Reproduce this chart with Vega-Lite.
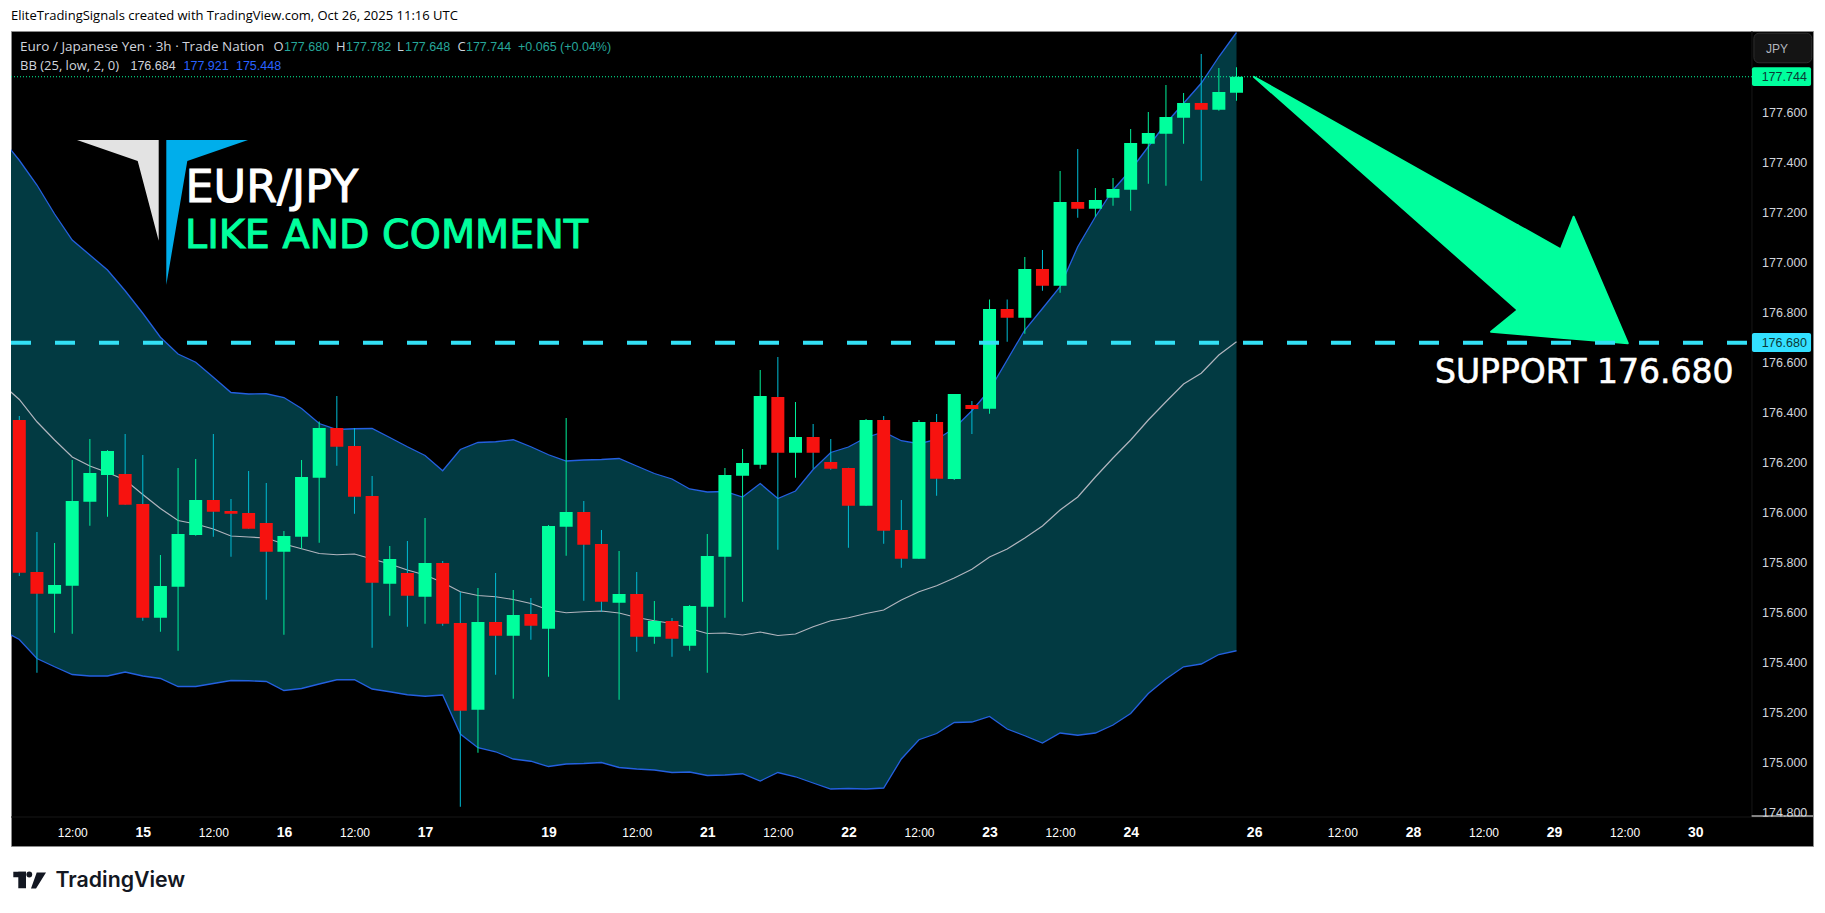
{"$schema":"https://vega.github.io/schema/vega-lite/v6.json","width":1802,"height":815,"autosize":{"type":"none"},"padding":{"left":11,"top":31,"right":12,"bottom":67},"background":"#ffffff","view":{"fill":"#000000","stroke":"#8a8a8a","strokeWidth":1},"title":{"text":"EliteTradingSignals created with TradingView.com, Oct 26, 2025 11:16 UTC","anchor":"start","frame":"group","orient":"top","offset":2,"baseline":"middle","font":"Open Sans","fontSize":13,"fontWeight":"normal","color":"#000000"},"datasets":{"candles":[{"i":0,"o":176.371,"h":176.387,"l":175.747,"c":175.76},{"i":1,"o":175.763,"h":175.923,"l":175.36,"c":175.676},{"i":2,"o":175.676,"h":175.879,"l":175.52,"c":175.711},{"i":3,"o":175.708,"h":176.211,"l":175.516,"c":176.047},{"i":4,"o":176.044,"h":176.295,"l":175.948,"c":176.159},{"i":5,"o":176.151,"h":176.251,"l":175.984,"c":176.247},{"i":6,"o":176.155,"h":176.315,"l":176.032,"c":176.032},{"i":7,"o":176.035,"h":176.231,"l":175.568,"c":175.58},{"i":8,"o":175.58,"h":175.831,"l":175.524,"c":175.707},{"i":9,"o":175.704,"h":176.179,"l":175.448,"c":175.915},{"i":10,"o":175.911,"h":176.215,"l":175.908,"c":176.051},{"i":11,"o":176.051,"h":176.315,"l":175.904,"c":176.004},{"i":12,"o":176.007,"h":176.055,"l":175.824,"c":175.996},{"i":13,"o":175.999,"h":176.167,"l":175.936,"c":175.936},{"i":14,"o":175.959,"h":176.119,"l":175.652,"c":175.844},{"i":15,"o":175.844,"h":175.927,"l":175.512,"c":175.907},{"i":16,"o":175.904,"h":176.211,"l":175.856,"c":176.143},{"i":17,"o":176.14,"h":176.365,"l":175.88,"c":176.339},{"i":18,"o":176.339,"h":176.467,"l":176.188,"c":176.264},{"i":19,"o":176.267,"h":176.339,"l":175.996,"c":176.064},{"i":20,"o":176.067,"h":176.147,"l":175.46,"c":175.72},{"i":21,"o":175.716,"h":175.867,"l":175.588,"c":175.815},{"i":22,"o":175.759,"h":175.887,"l":175.544,"c":175.668},{"i":23,"o":175.664,"h":175.979,"l":175.556,"c":175.799},{"i":24,"o":175.799,"h":175.807,"l":175.548,"c":175.556},{"i":25,"o":175.559,"h":175.683,"l":174.824,"c":175.208},{"i":26,"o":175.212,"h":175.699,"l":175.04,"c":175.563},{"i":27,"o":175.563,"h":175.759,"l":175.352,"c":175.508},{"i":28,"o":175.508,"h":175.691,"l":175.256,"c":175.591},{"i":29,"o":175.595,"h":175.659,"l":175.492,"c":175.548},{"i":30,"o":175.536,"h":175.951,"l":175.344,"c":175.947},{"i":31,"o":175.944,"h":176.379,"l":175.828,"c":176.003},{"i":32,"o":176.003,"h":176.047,"l":175.648,"c":175.872},{"i":33,"o":175.875,"h":175.931,"l":175.604,"c":175.644},{"i":34,"o":175.64,"h":175.847,"l":175.252,"c":175.675},{"i":35,"o":175.675,"h":175.763,"l":175.444,"c":175.504},{"i":36,"o":175.504,"h":175.647,"l":175.476,"c":175.567},{"i":37,"o":175.567,"h":175.579,"l":175.424,"c":175.496},{"i":38,"o":175.468,"h":175.631,"l":175.448,"c":175.627},{"i":39,"o":175.624,"h":175.915,"l":175.36,"c":175.827},{"i":40,"o":175.824,"h":176.179,"l":175.58,"c":176.151},{"i":41,"o":176.148,"h":176.255,"l":175.644,"c":176.199},{"i":42,"o":176.192,"h":176.571,"l":176.176,"c":176.467},{"i":43,"o":176.463,"h":176.623,"l":175.852,"c":176.24},{"i":44,"o":176.24,"h":176.443,"l":176.14,"c":176.303},{"i":45,"o":176.303,"h":176.355,"l":176.176,"c":176.24},{"i":46,"o":176.203,"h":176.295,"l":176.172,"c":176.176},{"i":47,"o":176.179,"h":176.18,"l":175.86,"c":176.028},{"i":48,"o":176.028,"h":176.375,"l":176.028,"c":176.371},{"i":49,"o":176.371,"h":176.387,"l":175.876,"c":175.928},{"i":50,"o":175.931,"h":176.051,"l":175.78,"c":175.816},{"i":51,"o":175.816,"h":176.371,"l":175.816,"c":176.363},{"i":52,"o":176.363,"h":176.395,"l":176.068,"c":176.136},{"i":53,"o":176.135,"h":176.475,"l":176.131,"c":176.475},{"i":54,"o":176.431,"h":176.447,"l":176.315,"c":176.415},{"i":55,"o":176.416,"h":176.853,"l":176.396,"c":176.815},{"i":56,"o":176.815,"h":176.853,"l":176.684,"c":176.78},{"i":57,"o":176.78,"h":177.023,"l":176.716,"c":176.975},{"i":58,"o":176.975,"h":177.051,"l":176.888,"c":176.908},{"i":59,"o":176.908,"h":177.367,"l":176.88,"c":177.243},{"i":60,"o":177.243,"h":177.455,"l":177.18,"c":177.216},{"i":61,"o":177.216,"h":177.299,"l":177.184,"c":177.251},{"i":62,"o":177.26,"h":177.339,"l":177.228,"c":177.295},{"i":63,"o":177.292,"h":177.535,"l":177.208,"c":177.479},{"i":64,"o":177.476,"h":177.603,"l":177.316,"c":177.519},{"i":65,"o":177.516,"h":177.711,"l":177.308,"c":177.583},{"i":66,"o":177.58,"h":177.679,"l":177.476,"c":177.639},{"i":67,"o":177.639,"h":177.835,"l":177.328,"c":177.612},{"i":68,"o":177.612,"h":177.779,"l":177.608,"c":177.683},{"i":69,"o":177.68,"h":177.782,"l":177.648,"c":177.744}],"bands":[{"i":-1,"upper":177.497,"basis":176.516,"lower":175.531},{"i":0,"upper":177.41,"basis":176.453,"lower":175.493},{"i":1,"upper":177.311,"basis":176.364,"lower":175.417},{"i":2,"upper":177.195,"basis":176.291,"lower":175.384},{"i":3,"upper":177.091,"basis":176.223,"lower":175.353},{"i":4,"upper":177.031,"basis":176.187,"lower":175.347},{"i":5,"upper":176.971,"basis":176.161,"lower":175.347},{"i":6,"upper":176.888,"basis":176.131,"lower":175.363},{"i":7,"upper":176.798,"basis":176.073,"lower":175.347},{"i":8,"upper":176.702,"basis":176.017,"lower":175.337},{"i":9,"upper":176.635,"basis":175.969,"lower":175.305},{"i":10,"upper":176.602,"basis":175.955,"lower":175.305},{"i":11,"upper":176.542,"basis":175.935,"lower":175.317},{"i":12,"upper":176.481,"basis":175.907,"lower":175.329},{"i":13,"upper":176.475,"basis":175.903,"lower":175.328},{"i":14,"upper":176.476,"basis":175.899,"lower":175.325},{"i":15,"upper":176.461,"basis":175.875,"lower":175.289},{"i":16,"upper":176.417,"basis":175.856,"lower":175.297},{"i":17,"upper":176.357,"basis":175.837,"lower":175.315},{"i":18,"upper":176.333,"basis":175.832,"lower":175.332},{"i":19,"upper":176.336,"basis":175.835,"lower":175.332},{"i":20,"upper":176.337,"basis":175.815,"lower":175.295},{"i":21,"upper":176.301,"basis":175.795,"lower":175.284},{"i":22,"upper":176.264,"basis":175.771,"lower":175.272},{"i":23,"upper":176.229,"basis":175.751,"lower":175.266},{"i":24,"upper":176.168,"basis":175.721,"lower":175.271},{"i":25,"upper":176.253,"basis":175.684,"lower":175.115},{"i":26,"upper":176.281,"basis":175.669,"lower":175.06},{"i":27,"upper":176.284,"basis":175.664,"lower":175.044},{"i":28,"upper":176.292,"basis":175.653,"lower":175.015},{"i":29,"upper":176.264,"basis":175.637,"lower":175.006},{"i":30,"upper":176.232,"basis":175.611,"lower":174.985},{"i":31,"upper":176.207,"basis":175.6,"lower":174.995},{"i":32,"upper":176.211,"basis":175.604,"lower":174.997},{"i":33,"upper":176.213,"basis":175.607,"lower":175.001},{"i":34,"upper":176.217,"basis":175.599,"lower":174.981},{"i":35,"upper":176.187,"basis":175.581,"lower":174.975},{"i":36,"upper":176.157,"basis":175.568,"lower":174.971},{"i":37,"upper":176.135,"basis":175.557,"lower":174.961},{"i":38,"upper":176.095,"basis":175.537,"lower":174.963},{"i":39,"upper":176.083,"basis":175.517,"lower":174.949},{"i":40,"upper":176.085,"basis":175.519,"lower":174.951},{"i":41,"upper":176.063,"basis":175.511,"lower":174.956},{"i":42,"upper":176.117,"basis":175.523,"lower":174.927},{"i":43,"upper":176.057,"basis":175.509,"lower":174.961},{"i":44,"upper":176.087,"basis":175.515,"lower":174.944},{"i":45,"upper":176.173,"basis":175.544,"lower":174.919},{"i":46,"upper":176.241,"basis":175.568,"lower":174.895},{"i":47,"upper":176.263,"basis":175.58,"lower":174.897},{"i":48,"upper":176.301,"basis":175.597,"lower":174.895},{"i":49,"upper":176.323,"basis":175.611,"lower":174.899},{"i":50,"upper":176.288,"basis":175.651,"lower":175.015},{"i":51,"upper":176.276,"basis":175.684,"lower":175.092},{"i":52,"upper":176.293,"basis":175.708,"lower":175.117},{"i":53,"upper":176.338,"basis":175.739,"lower":175.161},{"i":54,"upper":176.408,"basis":175.774,"lower":175.163},{"i":55,"upper":176.491,"basis":175.823,"lower":175.185},{"i":56,"upper":176.611,"basis":175.855,"lower":175.135},{"i":57,"upper":176.731,"basis":175.899,"lower":175.108},{"i":58,"upper":176.817,"basis":175.947,"lower":175.079},{"i":59,"upper":176.904,"basis":176.011,"lower":175.119},{"i":60,"upper":177.064,"basis":176.063,"lower":175.11},{"i":61,"upper":177.184,"basis":176.143,"lower":175.119},{"i":62,"upper":177.291,"basis":176.219,"lower":175.151},{"i":63,"upper":177.371,"basis":176.291,"lower":175.197},{"i":64,"upper":177.464,"basis":176.371,"lower":175.277},{"i":65,"upper":177.558,"basis":176.444,"lower":175.335},{"i":66,"upper":177.638,"basis":176.515,"lower":175.384},{"i":67,"upper":177.718,"basis":176.558,"lower":175.395},{"i":68,"upper":177.824,"basis":176.631,"lower":175.433},{"i":69,"upper":177.921,"basis":176.684,"lower":175.448}],"shapes":[{"shape":"arrow","part":"a","i":69.983,"p":177.744,"p2":177.744},{"shape":"arrow","part":"a","i":84.943,"p":177.15,"p2":176.811},{"shape":"arrow","part":"b","i":83.43,"p":176.724,"p2":176.724},{"shape":"arrow","part":"b","i":84.943,"p":176.811,"p2":176.715},{"shape":"arrow","part":"c","i":84.943,"p":177.15,"p2":176.715},{"shape":"arrow","part":"c","i":87.381,"p":177.054,"p2":176.7},{"shape":"arrow","part":"c","i":88.107,"p":177.184,"p2":176.696},{"shape":"arrow","part":"c","i":91.179,"p":176.678,"p2":176.678},{"shape":"logoLight","part":"a","i":3.271,"p":177.491,"p2":177.491},{"shape":"logoLight","part":"a","i":6.712,"p":177.491,"p2":177.407},{"shape":"logoLight","part":"a","i":7.902,"p":177.491,"p2":177.088},{"shape":"logoBlue","part":"a","i":8.333,"p":177.491,"p2":176.911},{"shape":"logoBlue","part":"a","i":9.524,"p":177.491,"p2":177.407},{"shape":"logoBlue","part":"a","i":12.965,"p":177.491,"p2":177.491},{"shape":"tv","part":"bar","i":-0.34,"p":174.564,"p2":174.542},{"shape":"tv","part":"bar","i":0.38,"p":174.564,"p2":174.542},{"shape":"tv","part":"stem","i":-0.057,"p":174.564,"p2":174.498},{"shape":"tv","part":"stem","i":0.38,"p":174.564,"p2":174.498},{"shape":"tv","part":"slant","i":0.663,"p":174.497,"p2":174.497},{"shape":"tv","part":"slant","i":0.947,"p":174.553,"p2":174.497},{"shape":"tv","part":"slant","i":0.986,"p":174.561,"p2":174.501},{"shape":"tv","part":"slant","i":1.514,"p":174.561,"p2":174.561}],"legendText":[{"i":0.04,"p":177.864,"text":"Euro / Japanese Yen · 3h · Trade Nation","role":"label"},{"i":14.416,"p":177.864,"text":"O","role":"label"},{"i":15.0,"p":177.864,"text":"177.680","role":"quote"},{"i":17.95,"p":177.864,"text":"H","role":"label"},{"i":18.52,"p":177.864,"text":"177.782","role":"quote"},{"i":21.41,"p":177.864,"text":"L","role":"label"},{"i":21.86,"p":177.864,"text":"177.648","role":"quote"},{"i":24.84,"p":177.864,"text":"C","role":"label"},{"i":25.32,"p":177.864,"text":"177.744","role":"quote"},{"i":28.27,"p":177.864,"text":"+0.065 (+0.04%)","role":"quote"},{"i":0.04,"p":177.788,"text":"BB (25, low, 2, 0)","role":"label"},{"i":6.3,"p":177.788,"text":"176.684","role":"basis"},{"i":9.31,"p":177.788,"text":"177.921","role":"band"},{"i":12.28,"p":177.788,"text":"175.448","role":"band"}],"levels":[{"name":"last","i":-0.4705,"i2":98.22,"p":177.744},{"name":"support","i":-0.4705,"i2":98.0,"p":176.68},{"name":"axisFoot","i":98.2,"i2":101.68,"p":174.787}],"dividers":[{"i":98.22,"p":177.927,"p2":174.787},{"i":-0.4705,"i2":101.68,"p":174.783}],"tags":[{"name":"last","i":98.22,"i2":101.57,"p":177.782,"p2":177.707},{"name":"support","i":98.22,"i2":101.57,"p":176.719,"p2":176.643}],"tagText":[{"i":98.77,"p":177.744,"text":"177.744"},{"i":98.77,"p":176.68,"text":"176.680"}],"button":[{"i":98.33,"i2":101.61,"p":177.918,"p2":177.8}],"buttonText":[{"i":99.02,"p":177.857,"text":"JPY"}],"notes":[{"kind":"pair","i":9.42,"p":177.244,"text":"EUR/JPY"},{"kind":"cta","i":9.4,"p":177.059,"text":"LIKE AND COMMENT"},{"kind":"support","i":80.25,"p":176.519,"text":"SUPPORT 176.680"},{"kind":"brand","i":2.05,"p":174.502,"text":"TradingView"}],"tvDot":[{"i":0.567,"p":174.553}]},"encoding":{"x":{"field":"i","type":"quantitative","scale":{"domain":[-0.4705,101.68],"nice":false,"zero":false,"padding":0},"axis":{"title":null,"orient":"bottom","domain":false,"ticks":false,"grid":false,"values":[3,7,11,15,19,23,30,35,39,43,47,51,55,59,63,70,75,79,83,87,91,95],"labelExpr":"{'7':'15','15':'16','23':'17','30':'19','39':'21','47':'22','55':'23','63':'24','70':'26','79':'28','87':'29','95':'30'}[datum.value+'']||'12:00'","labelFontWeight":{"condition":{"test":"indexof([7,15,23,30,39,47,55,63,70,79,87,95],datum.value)>=0","value":"bold"},"value":"normal"},"labelFontSize":{"condition":{"test":"indexof([7,15,23,30,39,47,55,63,70,79,87,95],datum.value)>=0","value":14},"value":12},"labelColor":"#ffffff","labelFont":"Liberation Sans","labelPadding":-14,"labelBaseline":"middle","labelOverlap":false,"labelBound":false,"labelFlush":false}},"y":{"field":"p","type":"quantitative","scale":{"domain":[174.667,177.927],"nice":false,"zero":false},"axis":{"title":null,"orient":"right","domain":false,"ticks":false,"grid":false,"values":[174.8,175,175.2,175.4,175.6,175.8,176,176.2,176.4,176.6,176.8,177,177.2,177.4,177.6],"format":".3f","labelColor":"#d1d4dc","labelFont":"Liberation Sans","labelFontSize":12.5,"labelAlign":"left","labelBaseline":"middle","labelPadding":-51.4,"labelOverlap":false,"labelBound":false,"labelFlush":false}}},"layer":[{"data":{"name":"bands"},"mark":{"type":"area","color":"#023a42","clip":true},"encoding":{"y":{"field":"upper","type":"quantitative","scale":{"domain":[174.667,177.927],"nice":false,"zero":false},"axis":{"title":null,"orient":"right","domain":false,"ticks":false,"grid":false,"values":[174.8,175,175.2,175.4,175.6,175.8,176,176.2,176.4,176.6,176.8,177,177.2,177.4,177.6],"format":".3f","labelColor":"#d1d4dc","labelFont":"Liberation Sans","labelFontSize":12.5,"labelAlign":"left","labelBaseline":"middle","labelPadding":-51.4,"labelOverlap":false,"labelBound":false,"labelFlush":false}},"y2":{"field":"lower"}}},{"data":{"name":"dividers"},"mark":{"type":"rule","color":"#161616","strokeWidth":1},"encoding":{"y2":{"field":"p2"},"x2":{"field":"i2"}}},{"data":{"name":"bands"},"mark":{"type":"line","color":"#2460e0","strokeWidth":1.3,"clip":true},"encoding":{"y":{"field":"upper","type":"quantitative","scale":{"domain":[174.667,177.927],"nice":false,"zero":false},"axis":{"title":null,"orient":"right","domain":false,"ticks":false,"grid":false,"values":[174.8,175,175.2,175.4,175.6,175.8,176,176.2,176.4,176.6,176.8,177,177.2,177.4,177.6],"format":".3f","labelColor":"#d1d4dc","labelFont":"Liberation Sans","labelFontSize":12.5,"labelAlign":"left","labelBaseline":"middle","labelPadding":-51.4,"labelOverlap":false,"labelBound":false,"labelFlush":false}}}},{"data":{"name":"bands"},"mark":{"type":"line","color":"#2460e0","strokeWidth":1.3,"clip":true},"encoding":{"y":{"field":"lower","type":"quantitative","scale":{"domain":[174.667,177.927],"nice":false,"zero":false},"axis":{"title":null,"orient":"right","domain":false,"ticks":false,"grid":false,"values":[174.8,175,175.2,175.4,175.6,175.8,176,176.2,176.4,176.6,176.8,177,177.2,177.4,177.6],"format":".3f","labelColor":"#d1d4dc","labelFont":"Liberation Sans","labelFontSize":12.5,"labelAlign":"left","labelBaseline":"middle","labelPadding":-51.4,"labelOverlap":false,"labelBound":false,"labelFlush":false}}}},{"data":{"name":"bands"},"mark":{"type":"line","color":"#b2b5be","strokeWidth":1.2,"clip":true},"encoding":{"y":{"field":"basis","type":"quantitative","scale":{"domain":[174.667,177.927],"nice":false,"zero":false},"axis":{"title":null,"orient":"right","domain":false,"ticks":false,"grid":false,"values":[174.8,175,175.2,175.4,175.6,175.8,176,176.2,176.4,176.6,176.8,177,177.2,177.4,177.6],"format":".3f","labelColor":"#d1d4dc","labelFont":"Liberation Sans","labelFontSize":12.5,"labelAlign":"left","labelBaseline":"middle","labelPadding":-51.4,"labelOverlap":false,"labelBound":false,"labelFlush":false}}}},{"data":{"name":"levels"},"transform":[{"filter":"datum.name=='last'"}],"mark":{"type":"rule","color":"#00ff9d","strokeWidth":1,"strokeDash":[1,2]},"encoding":{"x2":{"field":"i2"}}},{"data":{"name":"candles"},"mark":{"type":"rule","strokeWidth":1},"encoding":{"y":{"field":"h","type":"quantitative","scale":{"domain":[174.667,177.927],"nice":false,"zero":false},"axis":{"title":null,"orient":"right","domain":false,"ticks":false,"grid":false,"values":[174.8,175,175.2,175.4,175.6,175.8,176,176.2,176.4,176.6,176.8,177,177.2,177.4,177.6],"format":".3f","labelColor":"#d1d4dc","labelFont":"Liberation Sans","labelFontSize":12.5,"labelAlign":"left","labelBaseline":"middle","labelPadding":-51.4,"labelOverlap":false,"labelBound":false,"labelFlush":false}},"y2":{"field":"l"},"color":{"condition":{"test":"datum.c>=datum.o","value":"#00f09a"},"value":"#00bcd4"}}},{"data":{"name":"candles"},"mark":{"type":"bar","size":13,"orient":"vertical"},"encoding":{"y":{"field":"o","type":"quantitative","scale":{"domain":[174.667,177.927],"nice":false,"zero":false},"axis":{"title":null,"orient":"right","domain":false,"ticks":false,"grid":false,"values":[174.8,175,175.2,175.4,175.6,175.8,176,176.2,176.4,176.6,176.8,177,177.2,177.4,177.6],"format":".3f","labelColor":"#d1d4dc","labelFont":"Liberation Sans","labelFontSize":12.5,"labelAlign":"left","labelBaseline":"middle","labelPadding":-51.4,"labelOverlap":false,"labelBound":false,"labelFlush":false}},"y2":{"field":"c"},"color":{"condition":{"test":"datum.c>=datum.o","value":"#00ff9d"},"value":"#f7120f"}}},{"data":{"name":"shapes"},"transform":[{"filter":"datum.shape=='arrow'"}],"mark":{"type":"area","color":"#00ff9d","stroke":"#00ff9d","strokeWidth":2,"strokeJoin":"round"},"encoding":{"y2":{"field":"p2"},"detail":{"field":"part"}}},{"data":{"name":"shapes"},"transform":[{"filter":"datum.shape=='logoLight'"}],"mark":{"type":"area","color":"#e3e3e3"},"encoding":{"y2":{"field":"p2"}}},{"data":{"name":"shapes"},"transform":[{"filter":"datum.shape=='logoBlue'"}],"mark":{"type":"area","color":"#00aeeb"},"encoding":{"y2":{"field":"p2"}}},{"data":{"name":"shapes"},"transform":[{"filter":"datum.shape=='tv'"}],"mark":{"type":"area","color":"#131722"},"encoding":{"y2":{"field":"p2"},"detail":{"field":"part"}}},{"data":{"name":"tvDot"},"mark":{"type":"point","filled":true,"color":"#131722","size":34,"opacity":1}},{"data":{"name":"levels"},"transform":[{"filter":"datum.name=='support'"}],"mark":{"type":"rule","color":"#33e0f5","strokeWidth":4,"strokeDash":[20,24]},"encoding":{"x2":{"field":"i2"}}},{"data":{"name":"levels"},"transform":[{"filter":"datum.name=='axisFoot'"}],"mark":{"type":"rule","color":"#ffffff","strokeWidth":1},"encoding":{"x2":{"field":"i2"}}},{"data":{"name":"button"},"mark":{"type":"rect","color":"#141414","stroke":"#2e2e2e","strokeWidth":1,"cornerRadius":5},"encoding":{"x2":{"field":"i2"},"y2":{"field":"p2"}}},{"data":{"name":"buttonText"},"mark":{"type":"text","align":"left","baseline":"middle","font":"Liberation Sans","fontSize":12,"color":"#b2b5be"},"encoding":{"text":{"field":"text"}}},{"data":{"name":"tags"},"transform":[{"filter":"datum.name=='last'"}],"mark":{"type":"rect","color":"#00ff9d","cornerRadius":2},"encoding":{"x2":{"field":"i2"},"y2":{"field":"p2"}}},{"data":{"name":"tags"},"transform":[{"filter":"datum.name=='support'"}],"mark":{"type":"rect","color":"#33e0ff","cornerRadius":2},"encoding":{"x2":{"field":"i2"},"y2":{"field":"p2"}}},{"data":{"name":"tagText"},"mark":{"type":"text","align":"left","baseline":"middle","font":"Liberation Sans","fontSize":12.5,"color":"#0b3a35"},"encoding":{"text":{"field":"text"}}},{"data":{"name":"legendText"},"transform":[{"filter":"datum.role=='label' && length(datum.text)>20"}],"mark":{"type":"text","align":"left","baseline":"middle","font":"Open Sans","fontSize":13.5,"color":"#d1d4dc"},"encoding":{"text":{"field":"text"}}},{"data":{"name":"legendText"},"transform":[{"filter":"datum.role=='label' && length(datum.text)<=20"}],"mark":{"type":"text","align":"left","baseline":"middle","font":"Open Sans","fontSize":13,"color":"#d1d4dc"},"encoding":{"text":{"field":"text"}}},{"data":{"name":"legendText"},"transform":[{"filter":"datum.role!='label'"}],"mark":{"type":"text","align":"left","baseline":"middle","font":"Liberation Sans","fontSize":12.5},"encoding":{"text":{"field":"text"},"color":{"field":"role","type":"nominal","scale":{"domain":["basis","quote","band"],"range":["#d1d4dc","#26a69a","#2962ff"]},"legend":null}}},{"data":{"name":"notes"},"transform":[{"filter":"datum.kind=='pair'"}],"mark":{"type":"text","align":"left","baseline":"alphabetic","font":"DejaVu Sans","fontSize":44.5,"color":"#ffffff","stroke":"#ffffff","strokeWidth":1},"encoding":{"text":{"field":"text"}}},{"data":{"name":"notes"},"transform":[{"filter":"datum.kind=='cta'"}],"mark":{"type":"text","align":"left","baseline":"alphabetic","font":"DejaVu Sans","fontSize":39.6,"color":"#00ff9d","stroke":"#00ff9d","strokeWidth":1},"encoding":{"text":{"field":"text"}}},{"data":{"name":"notes"},"transform":[{"filter":"datum.kind=='support'"}],"mark":{"type":"text","align":"left","baseline":"alphabetic","font":"DejaVu Sans","fontSize":33,"color":"#ffffff","stroke":"#ffffff","strokeWidth":0.6},"encoding":{"text":{"field":"text"}}},{"data":{"name":"notes"},"transform":[{"filter":"datum.kind=='brand'"}],"mark":{"type":"text","align":"left","baseline":"alphabetic","font":"Inter","fontWeight":600,"fontSize":21.3,"color":"#131722"},"encoding":{"text":{"field":"text"}}}]}
